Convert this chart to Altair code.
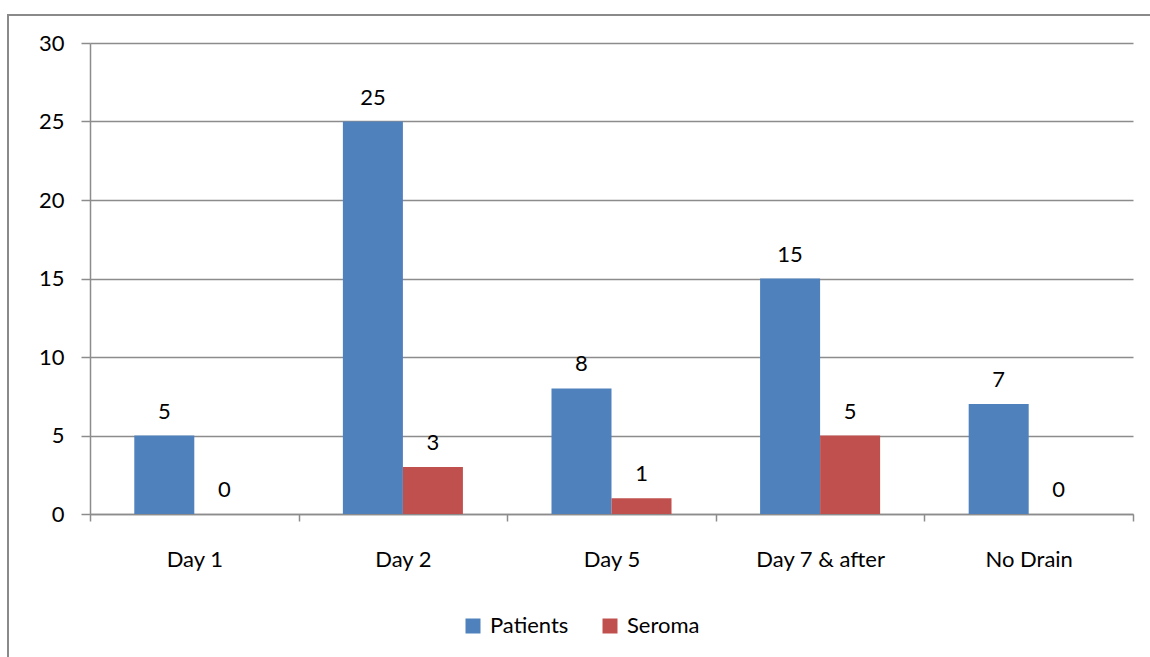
import altair as alt
import pandas as pd

# Drain removal timing vs. seroma occurrence
categories = ["Day 1", "Day 2", "Day 5", "Day 7 & after", "No Drain"]
patients = [5, 25, 8, 15, 7]
seroma = [0, 3, 1, 5, 0]
series_names = ["Patients", "Seroma"]
series_colors = ["#4F81BD", "#C0504D"]

rows = []
for cat, p, s in zip(categories, patients, seroma):
    rows.append({"Category": cat, "Series": "Patients", "Value": p})
    rows.append({"Category": cat, "Series": "Seroma", "Value": s})
df = pd.DataFrame(rows)

FONT = "Lato"
GRID = "#8c8c8c"

x_enc = alt.X(
    "Category:N",
    sort=categories,
    scale=alt.Scale(paddingInner=0, paddingOuter=0),
    axis=alt.Axis(
        title=None,
        labelAngle=0,
        tickBand="extent",
        tickSize=7,
        tickColor=GRID,
        tickWidth=1.5,
        domainColor=GRID,
        domainWidth=1.5,
        labelPadding=28,
        grid=False,
    ),
)
xo_enc = alt.XOffset(
    "Series:N",
    sort=series_names,
    scale=alt.Scale(paddingInner=0, paddingOuter=0.738),
)
y_enc = alt.Y(
    "Value:Q",
    scale=alt.Scale(domain=[0, 30], nice=False),
    axis=alt.Axis(
        title=None,
        values=[0, 5, 10, 15, 20, 25, 30],
        tickSize=9,
        tickColor=GRID,
        tickWidth=1.5,
        domainColor=GRID,
        domainWidth=1.5,
        gridColor=GRID,
        gridWidth=1.5,
        labelPadding=17,
    ),
)
color_enc = alt.Color(
    "Series:N",
    sort=series_names,
    scale=alt.Scale(domain=series_names, range=series_colors),
    legend=alt.Legend(
        title=None,
        orient="none",
        direction="horizontal",
        legendX=372,
        legendY=572,
        symbolType="square",
        symbolSize=225,
        symbolStrokeWidth=0,
        symbolOpacity=1,
        labelFontSize=22,
        labelFont=FONT,
        labelColor="#000000",
        labelOffset=6,
        columnPadding=30,
    ),
)

base = alt.Chart(df).encode(x=x_enc, xOffset=xo_enc, y=y_enc)

bars = base.mark_bar(strokeWidth=0).encode(color=color_enc)

labels = base.mark_text(
    dy=-17, baseline="alphabetic", font=FONT, fontSize=22, color="#000000"
).encode(text="Value:Q")

frame = alt.Chart(pd.DataFrame({"f": [0]})).mark_rect(
    fill=None, stroke="#8a8a8a", strokeWidth=2, clip=False
).encode(
    x=alt.value(-82), x2=alt.value(1090), y=alt.value(-28), y2=alt.value(650)
)

chart = (
    alt.layer(frame, bars, labels)
    .properties(
        width=1043,
        height=471,
        autosize=alt.AutoSizeParams(type="none"),
        padding={"left": 90, "top": 43, "right": 17, "bottom": 143},
        background="#ffffff",
    )
    .configure_view(stroke=None)
    .configure_axis(labelFont=FONT, labelFontSize=22, labelColor="#000000")
)

chart.save("out.html", embed_options={"renderer": "svg", "actions": False})
